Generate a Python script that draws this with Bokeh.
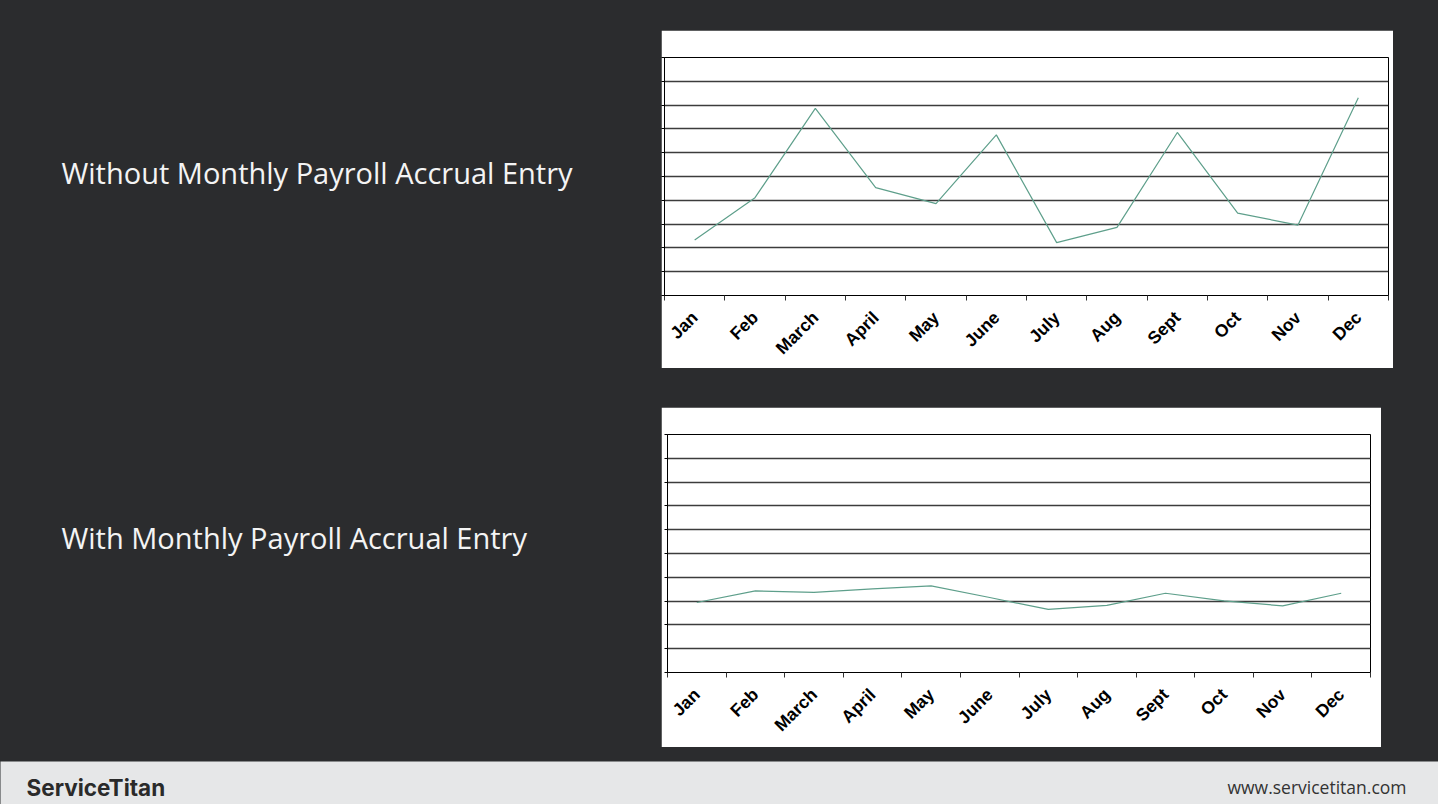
"""Payroll accrual comparison slide: two monthly line charts on a dark slide"""
from math import pi

from bokeh.embed import file_html
from bokeh.layouts import column, row
from bokeh.models import CategoricalAxis, FixedTicker, Label, LinearAxis, Range1d
from bokeh.plotting import figure
from bokeh.resources import INLINE

DARK = "#2b2c2e"
FOOTER = "#e6e7e8"
LINE = "#5e9f8b"
GRID = "#3c3c3c"

months = ["Jan", "Feb", "March", "April", "May", "June",
          "July", "Aug", "Sept", "Oct", "Nov", "Dec"]
# values (10 unlabelled steps)
without_accrual = [2.33, 4.11, 7.86, 4.53, 3.86, 6.75, 2.22, 2.86, 6.85, 3.46, 2.96, 8.31]
with_accrual = [2.94, 3.43, 3.37, 3.51, 3.64, 3.15, 2.65, 2.82, 3.33, 3.01, 2.80, 3.33]
grid_steps = list(range(11))
month_bounds = list(range(len(months) + 1))

titles = ["Without Monthly Payroll Accrual Entry", "With Monthly Payroll Accrual Entry"]
brand = "ServiceTitan"
site = "www.servicetitan.com"


def blank(width, height, color=None, top=0, bottom=0):
    """Plain block; transparent ones let the dark slide colour show"""
    plot = figure(
        width=width,
        height=height,
        output_backend="svg",
        toolbar_location=None,
        tools="",
        x_axis_location=None,
        y_axis_location=None,
        min_border=0,
        min_border_top=top,
        min_border_bottom=bottom,
        x_range=(0, 1),
        y_range=(0, 1),
    )
    plot.grid.visible = False
    plot.outline_line_color = None
    if color:
        plot.background_fill_color = color
        plot.border_fill_color = color
    else:
        plot.background_fill_alpha = 0
        plot.border_fill_alpha = 0
    return plot


def text_block(text, width, height, top, bottom, y):
    """Slide caption; y is measured up from the frame bottom"""
    plot = blank(width, height, top=top, bottom=bottom)
    plot.add_layout(
        Label(
            x=61, y=y, x_units="screen", y_units="screen", text=text,
            text_color="#f4f4f4", text_font="Open Sans", text_font_size="29px",
            text_baseline="middle",
        )
    )
    return plot


def produce_chart(values, width, height, left, right, top, bottom):
    """White excel-style line chart with unlabelled gridlines"""
    plot = figure(
        width=width,
        height=height,
        output_backend="svg",
        toolbar_location=None,
        tools="",
        x_range=months,
        y_range=Range1d(0, 10),
        x_axis_location=None,
        min_border_left=left,
        min_border_right=right,
        min_border_top=top,
        min_border_bottom=bottom,
    )
    plot.line(x=months, y=values, line_color=LINE, line_width=1.2)

    # ticks sit on the month boundaries, labels on the month centres
    bounds_axis = LinearAxis(
        ticker=FixedTicker(ticks=month_bounds),
        major_tick_out=5,
        major_tick_in=0,
        major_tick_line_color="#333333",
        minor_tick_line_color=None,
        major_label_text_font_size="0px",
        major_label_text_color=None,
        major_label_standoff=0,
        axis_line_color="black",
    )
    plot.add_layout(bounds_axis, "below")
    labels = CategoricalAxis(
        major_tick_out=0,
        major_tick_in=0,
        axis_line_color=None,
        major_label_orientation=pi / 4,
        major_label_standoff=14,
        major_label_text_font="Liberation Sans",
        major_label_text_font_style="bold",
        major_label_text_font_size="17.5px",
        major_label_text_color="black",
    )
    plot.add_layout(labels, "below")

    plot.yaxis.ticker = FixedTicker(ticks=grid_steps)
    plot.yaxis.major_tick_out = 3
    plot.yaxis.major_tick_in = 0
    plot.yaxis.major_label_text_font_size = "0px"
    plot.yaxis.major_label_text_color = None
    plot.yaxis.major_label_standoff = 0
    plot.yaxis.minor_tick_line_color = None
    plot.yaxis.axis_line_color = "black"

    plot.xgrid.visible = False
    plot.ygrid.grid_line_color = GRID
    plot.ygrid.grid_line_width = 1.6
    plot.outline_line_color = "black"
    plot.background_fill_color = "white"
    plot.border_fill_color = "white"
    return plot


chart_top = produce_chart(without_accrual, 732, 338, 3, 5, 27, 71)
chart_bottom = produce_chart(with_accrual, 720, 340, 6, 11, 27, 75)

footer = blank(1438, 43, FOOTER)
footer.add_layout(
    Label(x=26, y=17, x_units="screen", y_units="screen", text=brand,
          text_color="#2a2a2a", text_font="Inter", text_font_style="bold",
          text_font_size="22.5px", text_baseline="middle")
)
footer.add_layout(
    Label(x=1406, y=18, x_units="screen", y_units="screen", text=site,
          text_color="#333333", text_font="Open Sans", text_font_size="17.5px",
          text_baseline="middle", text_align="right")
)

layout = column(
    blank(1438, 30),
    row(text_block(titles[0], 661, 338, 27, 71, 123), chart_top, blank(45, 338, top=27, bottom=71)),
    blank(1438, 39),
    row(text_block(titles[1], 661, 340, 27, 75, 135), chart_bottom, blank(57, 340, top=27, bottom=75)),
    blank(1438, 14),
    footer,
    styles={"background-color": DARK},
)

open("out.html", "w").write(file_html(layout, INLINE))
